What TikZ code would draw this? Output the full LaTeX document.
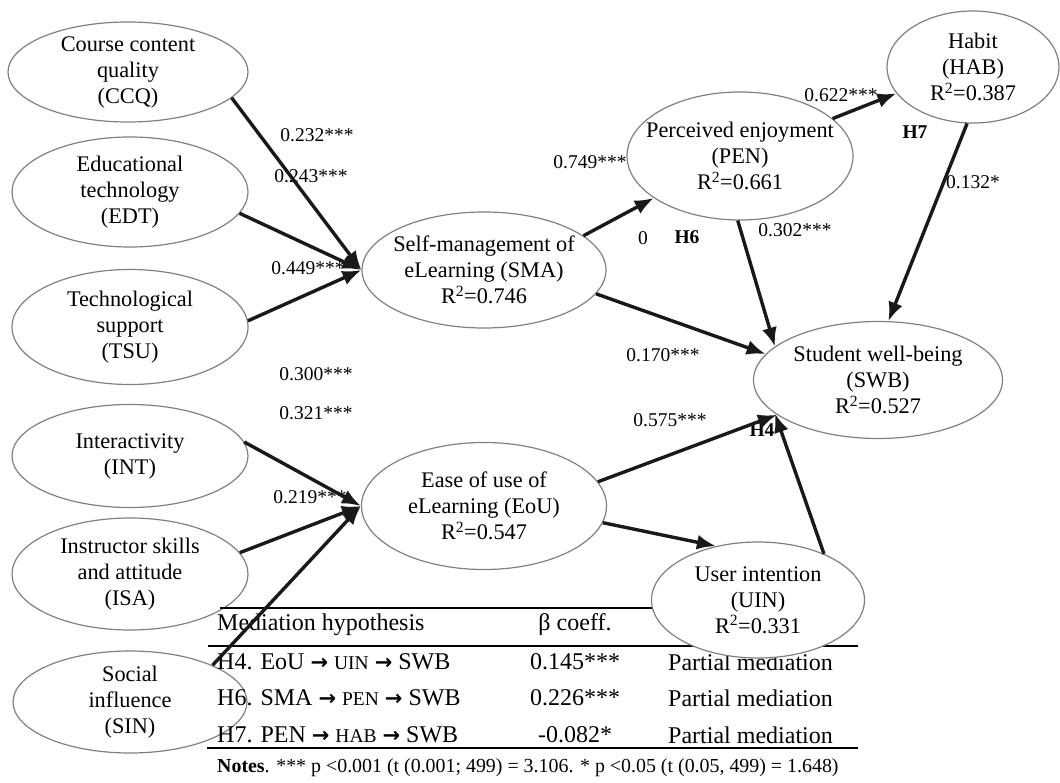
\documentclass[tikz,border=0pt]{standalone}
\usepackage{fontspec}
\setmainfont{Liberation Serif}
\newfontfamily\arrowfont{DejaVu Sans}
\usepackage{tikz}
\usetikzlibrary{shapes,arrows.meta,positioning}
\newcommand{\ar}{{\arrowfont\bfseries\fontsize{21}{22}\selectfont →}}
\newcommand{\sq}{R\textsuperscript{2}}

\begin{document}
\begin{tikzpicture}[x=1pt,y=-1pt,font=\fontsize{22.3}{26}\selectfont]
    \tikzstyle{construct}=[ellipse,draw=black!50,line width=1.2pt,align=center,inner sep=0pt,inner ysep=-4pt]
    \tikzstyle{filled construct}=[construct,fill=white]
    \tikzstyle{causal}=[-{Latex[length=19pt,width=15pt]},line width=3.4pt,draw=black!90]
    \tikzstyle{coef}=[font=\fontsize{19.5}{22}\selectfont,inner sep=0pt]
    \tikzstyle{hyp}=[font=\fontsize{19.5}{22}\selectfont\bfseries,inner sep=0pt]
    \tikzstyle{cell}=[font=\fontsize{24}{28}\selectfont,inner sep=0pt]
    \tikzstyle{rule}=[line width=2.4pt]

    \useasboundingbox (0,0) rectangle (1060,783);

    % Antecedents
    \node[construct,minimum width=240,minimum height=100] (CCQ) at (128,72) {Course content\\quality\\(CCQ)};
    \node[construct,minimum width=236,minimum height=110] (EDT) at (130,192) {Educational\\technology\\(EDT)};
    \node[construct,minimum width=236,minimum height=115] (TSU) at (130,327) {Technological\\support\\(TSU)};
    \node[construct,minimum width=236,minimum height=103] (INT) at (130,456) {Interactivity\\(INT)};
    \node[construct,minimum width=236,minimum height=112] (ISA) at (130,574) {Instructor skills\\and attitude\\(ISA)};
    \node[construct,minimum width=234,minimum height=102] (SIN) at (130,702) {Social\\influence\\(SIN)};

    % Mediation table
    \draw[rule] (220,608) -- (858,608);
    \draw[rule] (208,646) -- (858,646);
    \draw[rule] (207,748) -- (858,748);
    \node[cell,anchor=west] (head-1) at (217,625) {Mediation hypothesis};
    \node[cell] (head-2) at (575,625) {β coeff.};
    \foreach \name / \y / \med / \beta in {1/662/{H4. EoU \ar{} {\fontsize{19.5}{22}\selectfont UIN} \ar{} SWB}/0.145***,
                                            2/698/{H6. SMA \ar{} {\fontsize{19.5}{22}\selectfont PEN} \ar{} SWB}/0.226***,
                                            3/735/{H7. PEN \ar{} {\fontsize{19.5}{22}\selectfont HAB} \ar{} SWB}/-0.082*}
    {
        \node[cell,anchor=west] (row-\name-1) at (217,\y) {\med};
        \node[cell] (row-\name-2) at (575,\y) {\beta};
        \node[cell,anchor=west] (row-\name-3) at (668,\y) {Partial mediation};
    }
    \node[anchor=west,inner sep=0pt,font=\fontsize{19.9}{22}\selectfont] (notes) at (217,768)
        {\textbf{Notes}. *** p <0.001 (t (0.001; 499) = 3.106. * p <0.05 (t (0.05, 499) = 1.648)};

    % Mediators and outcome
    \node[filled construct,minimum width=244,minimum height=116,inner xsep=-10pt] (SMA) at (484,270) {Self-management of\\eLearning (SMA)\\\sq=0.746};
    \node[filled construct,minimum width=245,minimum height=127] (EoU) at (484,506) {Ease of use of\\eLearning (EoU)\\\sq=0.547};
    \node[filled construct,minimum width=226,minimum height=128,inner xsep=-16pt] (PEN) at (740,156) {Perceived enjoyment\\(PEN)\\\sq=0.661};
    \node[filled construct,minimum width=172,minimum height=112] (HAB) at (973,67) {Habit\\(HAB)\\\sq=0.387};
    \node[filled construct,minimum width=249,minimum height=117] (SWB) at (878,380) {Student well-being\\(SWB)\\\sq=0.527};
    \node[filled construct,minimum width=213,minimum height=116] (UIN) at (758,600) {User intention\\(UIN)\\\sq=0.331};

    % Path coefficients
    \node[coef] (c-CCQ) at (317,135) {0.232***};
    \node[coef] (c-EDT) at (311,176) {0.243***};
    \node[coef] (c-TSU) at (308,268) {0.449***};
    \node[coef] (c-a) at (316,374) {0.300***};
    \node[coef] (c-b) at (316,413) {0.321***};
    \node[coef] (c-INT) at (310,497) {0.219***};
    \node[coef] (c-PEN) at (590,162) {0.749***};
    \node[coef] (c-HAB) at (841,95) {0.622***};
    \node[coef] (c-HS) at (973,182) {0.132*};
    \node[coef] (c-PS) at (795,230) {0.302***};
    \node[coef] (c-SS) at (663,355) {0.170***};
    \node[coef] (c-ES) at (670,420) {0.575***};
    \node[coef] (c-0) at (643,238) {0};
    \node[hyp] (H6) at (687,237) {H6};
    \node[hyp] (H7) at (915,132) {H7};
    \node[hyp] (H4) at (762,430) {H4};

    % Structural paths
    \foreach \source / \a in {CCQ/-14,EDT/-11,TSU/3}
        \draw[causal] (\source.\a) -- (SMA.west);
    \foreach \source / \a in {INT/7,ISA/11,SIN/24}
        \draw[causal] (\source.\a) -- (EoU.west);
    \draw[causal] (SMA.19) -- (PEN.-154);
    \draw[causal] (SMA.-12) -- (SWB.167);
    \draw[causal] (PEN.-92) -- (SWB.162);
    \draw[causal] (PEN.22) -- (HAB.-161);
    \draw[causal] (HAB.-96) -- (SWB.80);
    \draw[causal] (EoU.12) -- (SWB.-161);
    \draw[causal] (EoU.-8) -- (UIN.128);
    \draw[causal] (UIN.35) -- (SWB.-162);
\end{tikzpicture}
\end{document}
